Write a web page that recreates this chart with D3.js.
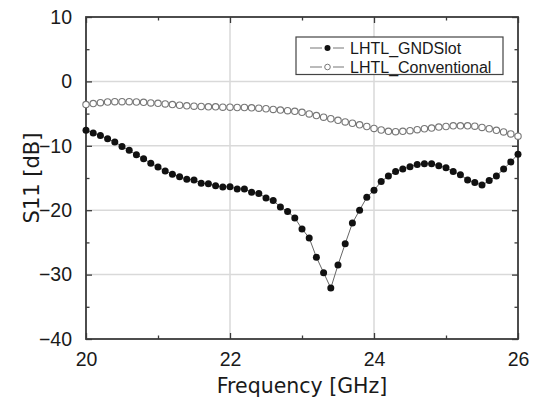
<!DOCTYPE html>
<html><head><meta charset="utf-8">
<script src="https://cdn.jsdelivr.net/npm/d3@7"></script>
<style>
html,body{margin:0;padding:0;background:#fff;}
svg{display:block;}
</style></head>
<body>
<svg id="chart" width="538" height="404"></svg>
<script>
const frequency = d3.range(61).map(i => +(20 + i * 0.1).toFixed(1));
const gndSlot = [
  -7.6, -8.0, -8.4, -8.9, -9.4, -10.1, -10.7, -11.4, -12.0, -12.7,
  -13.3, -13.9, -14.4, -14.8, -15.2, -15.3, -15.8, -15.9, -16.2, -16.4,
  -16.35, -16.7, -16.7, -17.2, -17.4, -18.1, -18.5, -19.5, -20.2, -21.2,
  -22.9, -24.3, -27.3, -29.7, -32.1, -28.5, -25.2, -22.0, -20.0, -18.0,
  -16.9, -15.55, -14.7, -14.0, -13.6, -13.25, -12.9, -12.8, -12.8, -13.1,
  -13.4, -14.0, -14.5, -15.3, -15.7, -16.1, -15.4, -14.7, -13.6, -12.5,
  -11.3
];
const conventional = [
  -3.6, -3.45, -3.3, -3.2, -3.15, -3.15, -3.15, -3.2, -3.25, -3.35,
  -3.4, -3.5, -3.6, -3.7, -3.8, -3.85, -3.9, -3.95, -3.95, -4.0,
  -4.0, -4.05, -4.05, -4.1, -4.15, -4.25, -4.35, -4.45, -4.55, -4.65,
  -4.8, -5.05, -5.3, -5.55, -5.8, -6.05, -6.3, -6.5, -6.75, -7.0,
  -7.3, -7.55, -7.75, -7.8, -7.75, -7.65, -7.5, -7.35, -7.25, -7.1,
  -7.0, -6.9, -6.9, -6.9, -6.95, -7.15, -7.35, -7.6, -7.85, -8.15,
  -8.5
];
const xTicks = [20, 22, 24, 26];
const xMinor = [21, 23, 25];
const yTicks = [10, 0, -10, -20, -30, -40];
const yMinor = [5, -5, -15, -25, -35];
const seriesNames = ["LHTL_GNDSlot", "LHTL_Conventional"];

const W = 538, H = 404;
const m = {left: 86, right: 20, top: 17, bottom: 65};
const svg = d3.select("#chart");
const x = d3.scaleLinear().domain([20, 26]).range([m.left, W - m.right]);
const y = d3.scaleLinear().domain([-40, 10]).range([H - m.bottom, m.top]);
const frameColor = "#3a3a3a";
const tickFont = "'Liberation Sans', Arial, sans-serif";
const labelFont = "'DejaVu Sans', Verdana, sans-serif";

// gridlines
const grid = svg.append("g");
grid.selectAll("line.gx").data(xTicks.slice(1, -1)).join("line")
  .attr("x1", d => x(d)).attr("x2", d => x(d))
  .attr("y1", y(10)).attr("y2", y(-40))
  .attr("stroke", "#d9d9d9").attr("stroke-width", 1.5);
grid.selectAll("line.gy").data(yTicks.slice(1, -1)).join("line")
  .attr("y1", d => y(d)).attr("y2", d => y(d))
  .attr("x1", x(20)).attr("x2", x(26))
  .attr("stroke", "#d9d9d9").attr("stroke-width", 1.5);

// axes
function styleAxis(g) {
  g.select(".domain").remove();
  g.selectAll(".tick line").attr("stroke", frameColor).attr("stroke-width", 1.3);
  g.selectAll(".tick text").attr("fill", "#1a1a1a").attr("font-family", tickFont).attr("font-size", 19.5);
}
const bottom = svg.append("g").attr("transform", `translate(0,${y(-40)})`)
  .call(d3.axisBottom(x).tickValues(xTicks).tickSize(-6).tickPadding(13).tickFormat(d3.format("d")));
styleAxis(bottom);
svg.append("g").attr("transform", `translate(0,${y(-40)})`)
  .call(d3.axisBottom(x).tickValues(xMinor).tickSize(-3.5).tickFormat(""))
  .call(styleAxis);
svg.append("g").attr("transform", `translate(0,${y(10)})`)
  .call(d3.axisTop(x).tickValues(xTicks).tickSize(-6).tickFormat(""))
  .call(styleAxis);
svg.append("g").attr("transform", `translate(0,${y(10)})`)
  .call(d3.axisTop(x).tickValues(xMinor).tickSize(-3.5).tickFormat(""))
  .call(styleAxis);
const left = svg.append("g").attr("transform", `translate(${x(20)},0)`)
  .call(d3.axisLeft(y).tickValues(yTicks).tickSize(-6).tickPadding(14).tickFormat(d3.format("d")));
styleAxis(left);
svg.append("g").attr("transform", `translate(${x(20)},0)`)
  .call(d3.axisLeft(y).tickValues(yMinor).tickSize(-3.5).tickFormat(""))
  .call(styleAxis);
svg.append("g").attr("transform", `translate(${x(26)},0)`)
  .call(d3.axisRight(y).tickValues(yTicks).tickSize(-6).tickFormat(""))
  .call(styleAxis);
svg.append("g").attr("transform", `translate(${x(26)},0)`)
  .call(d3.axisRight(y).tickValues(yMinor).tickSize(-3.5).tickFormat(""))
  .call(styleAxis);

// frame
svg.append("rect").attr("x", x(20)).attr("y", y(10))
  .attr("width", x(26) - x(20)).attr("height", y(-40) - y(10))
  .attr("fill", "none").attr("stroke", frameColor).attr("stroke-width", 1.8);

// series
const line = d3.line().x((d, i) => x(frequency[i])).y(d => y(d));
svg.append("path").datum(conventional).attr("d", line)
  .attr("fill", "none").attr("stroke", "#888").attr("stroke-width", 1);
svg.append("g").selectAll("circle").data(conventional).join("circle")
  .attr("cx", (d, i) => x(frequency[i])).attr("cy", d => y(d)).attr("r", 3.2)
  .attr("fill", "#fff").attr("stroke", "#777").attr("stroke-width", 1.1);
svg.append("path").datum(gndSlot).attr("d", line)
  .attr("fill", "none").attr("stroke", "#666").attr("stroke-width", 1);
svg.append("g").selectAll("circle").data(gndSlot).join("circle")
  .attr("cx", (d, i) => x(frequency[i])).attr("cy", d => y(d)).attr("r", 3.5)
  .attr("fill", "#111");

// legend
const lg = svg.append("g");
lg.append("rect").attr("x", 296).attr("y", 37).attr("width", 207).attr("height", 37.5)
  .attr("fill", "#fff").attr("stroke", "#444").attr("stroke-width", 1.2);
seriesNames.forEach((name, i) => {
  const cy = 48 + i * 19;
  lg.append("line").attr("x1", 310).attr("x2", 322).attr("y1", cy).attr("y2", cy)
    .attr("stroke", "#777").attr("stroke-width", 1);
  lg.append("line").attr("x1", 333).attr("x2", 344).attr("y1", cy).attr("y2", cy)
    .attr("stroke", "#777").attr("stroke-width", 1);
  lg.append("circle").attr("cx", 327.5).attr("cy", cy).attr("r", i === 0 ? 3 : 2.8)
    .attr("fill", i === 0 ? "#111" : "#fff").attr("stroke", i === 0 ? "none" : "#777").attr("stroke-width", 1);
  lg.append("text").attr("x", 350).attr("y", cy + 6).text(name)
    .attr("font-family", tickFont).attr("font-size", 16).attr("fill", "#1a1a1a");
});

// axis titles
svg.append("text").attr("x", (x(20) + x(26)) / 2).attr("y", 393)
  .attr("text-anchor", "middle").attr("font-family", labelFont).attr("font-size", 20.5)
  .attr("fill", "#1a1a1a").text("Frequency [GHz]");
svg.append("text").attr("transform", `translate(39,${y(-15)}) rotate(-90)`)
  .attr("text-anchor", "middle").attr("font-family", labelFont).attr("font-size", 21)
  .attr("fill", "#1a1a1a").text("S11 [dB]");
</script>
</body></html>
